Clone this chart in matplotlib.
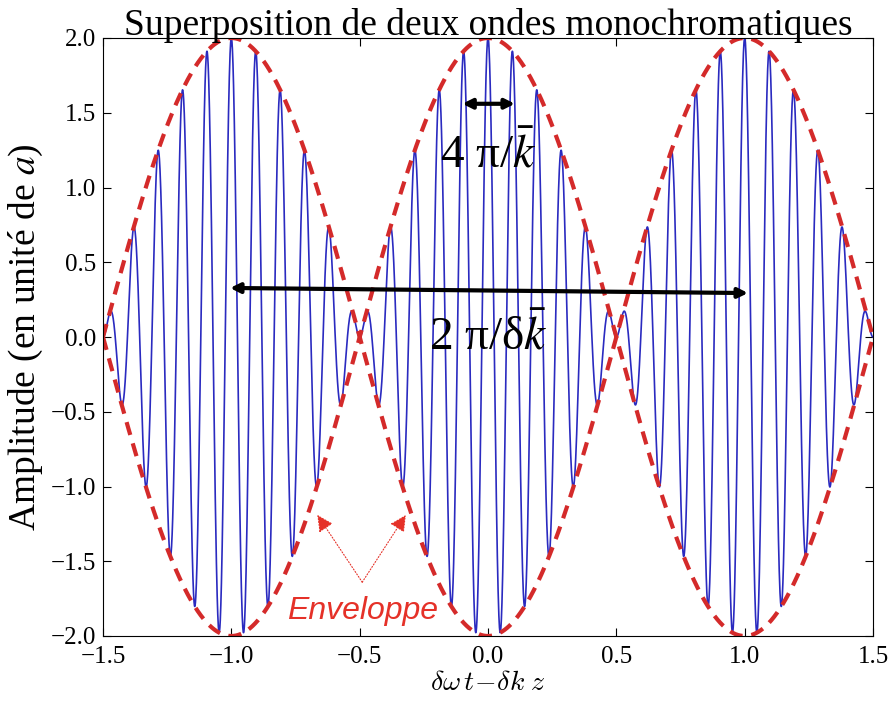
import numpy as np
import matplotlib
matplotlib.use("Agg")
import matplotlib.pyplot as plt

# values
amplitude = 2.0            # envelope peak (in units of a)
k_beat = 1.0               # envelope: cos(pi * k_beat * x)
k_mean = 21.0              # carrier: cos(pi * k_mean * x)
x_range = [-1.5, 1.5]
y_range = [-2.0, 2.0]
x_ticks = [-1.5, -1.0, -0.5, 0.0, 0.5, 1.0, 1.5]
y_ticks = [-2.0, -1.5, -1.0, -0.5, 0.0, 0.5, 1.0, 1.5, 2.0]

plt.rcParams['font.family'] = ['Liberation Serif', 'DejaVu Serif']
plt.rcParams['mathtext.fontset'] = 'cm'
plt.rcParams['xtick.direction'] = 'in'
plt.rcParams['ytick.direction'] = 'in'

x = np.linspace(x_range[0], x_range[1], 4000)
env = amplitude * np.cos(np.pi * k_beat * x)
signal = env * np.cos(np.pi * k_mean * x)

fig = plt.figure(figsize=(8.88, 7.07), dpi=100)
ax = fig.add_axes([103 / 888, 1 - 636 / 707, 770 / 888, 598 / 707])

ax.plot(x, signal, color='#2a2ac0', lw=1.2)
ax.plot(x, env, color='#d42a2a', lw=3, ls=(0, (3.2, 2.1)))
ax.plot(x, -env, color='#d42a2a', lw=3, ls=(0, (3.2, 2.1)))

ax.set_xlim(x_range)
ax.set_ylim(y_range)
ax.set_xticks(x_ticks)
ax.set_yticks(y_ticks)
ax.tick_params(top=True, right=True, labelsize=18, length=6)
ax.tick_params(axis='y', pad=5)
ax.tick_params(axis='x', pad=7)

ax.set_title('Superposition de deux ondes monochromatiques', fontsize=27, pad=2)
ax.set_xlabel(r'$\delta\omega\, t\!-\!\delta k\; z$', fontsize=20, labelpad=2)
ax.set_ylabel(r'Amplitude (en unité de $a$)', fontsize=27, labelpad=4,
              math_fontfamily='stix')

# small arrow: two carrier periods
ax.annotate('', xy=(0.105, 1.56), xytext=(-0.1, 1.56),
            arrowprops=dict(arrowstyle='<|-|>', color='black', lw=3,
                            mutation_scale=14, shrinkA=0, shrinkB=0))
ax.text(0.0, 1.22, r'4 π/$\bar{k}$', fontsize=34, ha='center', va='center',
        math_fontfamily='stix')

# big arrow: one beat period
ax.annotate('', xy=(1.013, 0.294), xytext=(-1.005, 0.328),
            arrowprops=dict(arrowstyle='<|-|>', color='black', lw=3,
                            mutation_scale=14, shrinkA=0, shrinkB=0))
ax.text(0.0, 0.0, r'2 π/δ$\bar{k}$', fontsize=34, ha='center', va='center',
        math_fontfamily='stix')

# envelope label
ax.text(-0.49, -1.83, 'Enveloppe', fontsize=23, color='#e53128', style='italic',
        family=['Liberation Sans', 'DejaVu Sans'], ha='center', va='center')
for tip in [(-0.665, -1.19), (-0.32, -1.19)]:
    ax.annotate('', xy=tip, xytext=(-0.49, -1.64),
                arrowprops=dict(arrowstyle='-|>', color='#e53128', lw=0.8,
                                ls=':', mutation_scale=25, shrinkA=0, shrinkB=0))

fig.savefig('out.png', dpi=100)
